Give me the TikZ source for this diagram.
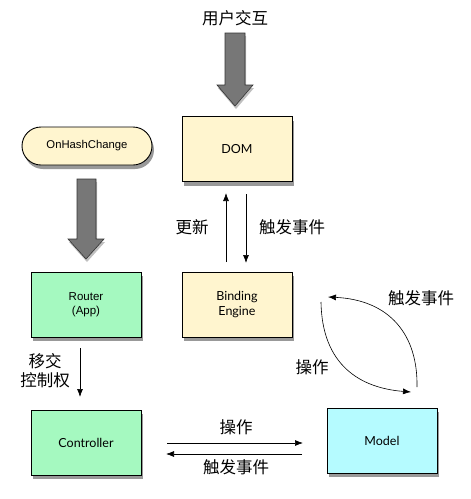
\documentclass[tikz,border=0pt]{standalone}
\usepackage{fontspec}
\setmainfont{Lato}
\newfontfamily\cjk{Noto Sans CJK SC}
\newfontfamily\helv{Liberation Sans}
\usetikzlibrary{shadows,arrows.meta}
\definecolor{boxyellow}{HTML}{FFF5CF}
\definecolor{boxgreen}{HTML}{A5F9C0}
\definecolor{boxcyan}{HTML}{B5FBFF}
\definecolor{biggray}{HTML}{777777}
\tikzset{
  box/.style={draw=black, line width=0.9pt, minimum width=110pt, minimum height=65pt, inner sep=0pt, align=center, font=\fontsize{12.5}{15}\selectfont,
    drop shadow={shadow xshift=2pt, shadow yshift=-4pt, opacity=0.4, fill=black}},
  lbl/.style={font=\cjk\fontsize{16.5}{19}\selectfont, inner sep=0pt, align=center},
  thin arrow/.style={-{Latex[length=8pt,width=6pt]}, line width=0.7pt},
  bigarrow/.style={fill=biggray, draw=black!80, line width=0.6pt,
    drop shadow={shadow xshift=1pt, shadow yshift=-3pt, opacity=0.25, fill=black}}
}
\begin{document}
\begin{tikzpicture}[x=1pt,y=-1pt]
\useasboundingbox (0,0) rectangle (471,499);
\fill[white] (0,0) rectangle (471,499);
% title
\node[lbl] (ui) at (235,18) {用户交互};
% big arrows
\draw[bigarrow] (225,33) -- (245,33) -- (245,85) -- (253,85) -- (235,106) -- (217,85) -- (225,85) -- cycle;
\draw[bigarrow] (77,179) -- (96,179) -- (96,239) -- (104,239) -- (86,259) -- (68,239) -- (77,239) -- cycle;
% nodes
\node[box, fill=boxyellow] (dom) at (237,149) {DOM};
\node[box, fill=boxyellow] (be) at (237,304.5) {Binding\\Engine};
\node[box, fill=boxgreen, font=\helv\fontsize{11.5}{14}\selectfont] (router) at (86,304.5) {Router\\(App)};
\node[box, fill=boxgreen] (ctrl) at (86,442.5) {Controller};
\node[box, fill=boxcyan] (model) at (382,440.5) {Model};
\node[draw=black, line width=0.9pt, fill=boxyellow, rounded corners=19pt, minimum width=130pt, minimum height=38pt,
  font=\helv\fontsize{11.3}{13}\selectfont,
  drop shadow={shadow xshift=2pt, shadow yshift=-4pt, opacity=0.4, fill=black}] (hash) at (87,146) {OnHashChange};
% DOM <-> Binding
\coordinate (u1) at (226,262);
\coordinate (u2) at (226,193);
\coordinate (d1) at (246,194);
\coordinate (d2) at (246,263);
\draw[thin arrow] (u1) -- (u2);
\draw[thin arrow] (d1) -- (d2);
\node[lbl] (upd) at (192,227) {更新};
\node[lbl] (trig1) at (292,227) {触发事件};
% router -> controller
\coordinate (r1) at (80,348);
\coordinate (r2) at (80,397);
\draw[thin arrow] (r1) -- (r2);
\node[lbl, font=\cjk\fontsize{16.5}{19}\selectfont] (hand) at (45,371) {移交\\控制权};
% controller <-> model
\coordinate (h1) at (167,443);
\coordinate (h2) at (303,443);
\coordinate (h3) at (302,454);
\coordinate (h4) at (166,454);
\draw[thin arrow] (h1) -- (h2);
\draw[thin arrow] (h3) -- (h4);
\node[lbl] (op2) at (236,427) {操作};
\node[lbl] (trig3) at (236,467) {触发事件};
% curved arrows
\coordinate (c1) at (321,302);
\coordinate (c2) at (411,392);
\coordinate (c3) at (417,387);
\coordinate (c4) at (328,297);
\draw[thin arrow, line width=0.6pt] (c1) .. controls (322,365) and (360,388) .. (c2);
\draw[thin arrow, line width=0.6pt] (c3) .. controls (418,335) and (390,300) .. (c4);
\node[lbl] (op1) at (312,367) {操作};
\node[lbl] (trig2) at (421,298) {触发事件};
\end{tikzpicture}
\end{document}
